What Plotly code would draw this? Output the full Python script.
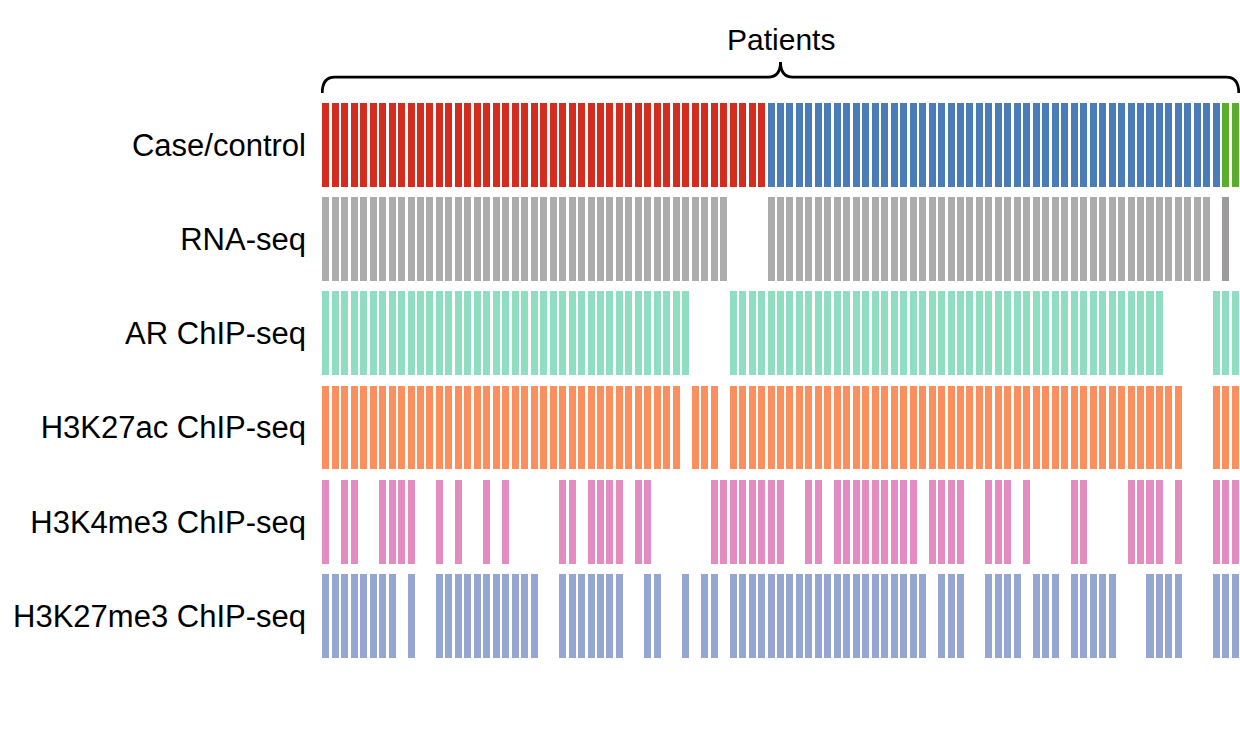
import plotly.graph_objects as go

# ---- data (one character per patient, 97 patients) ----
row_labels = ["Case/control", "RNA-seq", "AR ChIP-seq", "H3K27ac ChIP-seq",
              "H3K4me3 ChIP-seq", "H3K27me3 ChIP-seq"]

# C = case, N = control, G = other
case_control = ("CCCCCCCCCC" "CCCCCCCCCC" "CCCCCCCCCC" "CCCCCCCCCC" "CCCCCCCNNN"
                "NNNNNNNNNN" "NNNNNNNNNN" "NNNNNNNNNN" "NNNNNNNNNN" "NNNNNGG")
# 1 = data available, 0 = missing, 2 = available (darker sample)
rna_seq = ("1111111111" "1111111111" "1111111111" "1111111111" "1110000111"
           "1111111111" "1111111111" "1111111111" "1111111111" "1111020")
ar_chip = ("1111111111" "1111111111" "1111111111" "1111111110" "0001111111"
           "1111111111" "1111111111" "1111111111" "1111111110" "0000111")
h3k27ac = ("1111111111" "1111111111" "1111111111" "1111111101" "1101111111"
           "1111111111" "1111111111" "1111111111" "1111111111" "1000111")
h3k4me3 = ("1011001111" "0010100101" "0000011011" "1101100000" "0111111110"
           "0110111111" "1110111100" "1110100001" "1000011110" "1000111")
h3k27me3 = ("1111111101" "0011111111" "1110011111" "1100110010" "1101111111"
            "1111111111" "1111011100" "1111011101" "1111000111" "1000111")

group_colors = {"C": "#d42d20", "N": "#4a7db8", "G": "#5aae2b"}
row_colors = ["", "#acacac", "#8fdec1", "#fb8f5e", "#e48bc1", "#96a6d3"]
rna_dark = "#9c9a9a"

rows = [case_control, rna_seq, ar_chip, h3k27ac, h3k4me3, h3k27me3]

fig = go.Figure()
BAR_H = 0.89
BAR_W = 0.74
for r, seq in enumerate(rows):
    xs, cols = [], []
    for i, ch in enumerate(seq):
        if r == 0:
            xs.append(i)
            cols.append(group_colors[ch])
        elif ch != "0":
            xs.append(i)
            cols.append(rna_dark if ch == "2" else row_colors[r])
    fig.add_trace(go.Bar(
        x=xs, y=[BAR_H] * len(xs), base=[r + (1 - BAR_H) / 2] * len(xs),
        width=BAR_W, marker=dict(color=cols, line=dict(width=0)),
        name=row_labels[r], showlegend=False, hoverinfo="skip"))

n = len(case_control)
x0, x1 = -BAR_W / 2, n - 1 + BAR_W / 2
xc = (x0 + x1) / 2
yb, yl, yt = -0.05, -0.22, -0.38
c = 1.3
brace = (f"M {x0},{yb} Q {x0},{yl} {x0 + c},{yl} L {xc - c},{yl} "
         f"Q {xc},{yl} {xc},{yt} Q {xc},{yl} {xc + c},{yl} "
         f"L {x1 - c},{yl} Q {x1},{yl} {x1},{yb}")
fig.add_shape(type="path", path=brace, xref="x", yref="y",
              line=dict(color="black", width=2.8))
fig.add_annotation(x=xc, y=-0.62, xref="x", yref="y", text="Patients",
                   showarrow=False, font=dict(size=30, color="black",
                                              family="Liberation Sans, Arial"))

fig.update_layout(
    width=1240, height=730,
    margin=dict(l=321, r=0, t=13, b=67, autoexpand=False),
    paper_bgcolor="white", plot_bgcolor="white",
    barmode="overlay", bargap=0,
    font=dict(family="Liberation Sans, Arial", color="black"),
    xaxis=dict(range=[-0.5, n - 0.5], visible=False, fixedrange=True),
    yaxis=dict(range=[6, -0.9], tickvals=[r + 0.5 for r in range(6)],
               ticktext=row_labels, showgrid=False, zeroline=False,
               showline=False, ticks="", ticklabelstandoff=14,
               tickfont=dict(size=31, color="black"), fixedrange=True),
)

fig.write_html(
    "out.html",
    config={"displayModeBar": False},
    post_script="document.body.style.margin='0';"
                "document.body.style.overflow='hidden';",
)
